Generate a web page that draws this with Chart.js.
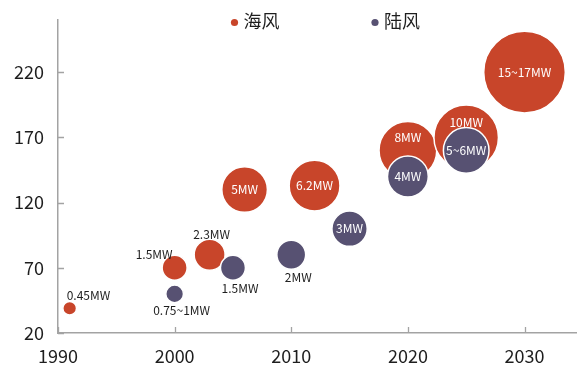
<!DOCTYPE html>
<html>
<head>
<meta charset="utf-8">
<script src="https://cdn.jsdelivr.net/npm/chart.js@4/dist/chart.umd.min.js"></script>
<style>
  html, body { margin: 0; padding: 0; background: #fff; }
  canvas { display: block; }
</style>
</head>
<body>
<canvas id="chart" width="577" height="365"></canvas>
<script>
// Series names
const seriesNames = ['海风', '陆风'];

// Offshore turbines: year, axis value, unit capacity (MW) and label
const offshoreYears = [1991, 2000, 2003, 2006, 2012, 2020, 2025, 2030];
const offshoreValues = [39, 70, 80, 130, 133, 160, 170, 220];
const offshoreMW = [0.45, 1.5, 2.3, 5, 6.2, 8, 10, 16];
const offshoreLabels = ['0.45MW', '1.5MW', '2.3MW', '5MW', '6.2MW', '8MW', '10MW', '15~17MW'];

// Onshore turbines
const onshoreYears = [2000, 2005, 2010, 2015, 2020, 2025];
const onshoreValues = [50, 70, 80, 100, 140, 160];
const onshoreMW = [0.75, 1.5, 2, 3, 4, 5];
const onshoreLabels = ['0.75~1MW', '1.5MW', '2MW', '3MW', '4MW', '5~6MW'];

// Axis ticks
const xTicks = [1990, 2000, 2010, 2020, 2030];
const yTicks = [20, 70, 120, 170, 220];

// Where each label sits relative to its bubble
const offshorePlacement = ['above-right', 'above-left', 'above', 'inside', 'inside', 'upper', 'upper', 'inside'];
const onshorePlacement = ['below', 'below', 'below', 'inside', 'inside', 'inside'];

const FONT = '"Noto Sans CJK SC", "Noto Sans", sans-serif';
const RED = '#C8452A';
const PURPLE = '#575172';
const AXIS = '#A3A3A3';
const TEXT = '#1E1E1E';
const SIZE_K = 10.2; // bubble radius grows with sqrt of capacity

function toPoints(years, values, mw) {
  return years.map((x, i) => ({ x: x, y: values[i], r: SIZE_K * Math.sqrt(mw[i]) }));
}

// Inward-pointing tick marks on both axes
const innerTicks = {
  id: 'innerTicks',
  beforeDatasetsDraw(chart) {
    const { ctx, chartArea, scales } = chart;
    ctx.save();
    ctx.strokeStyle = AXIS;
    ctx.lineWidth = 1.3;
    ctx.beginPath();
    yTicks.forEach(v => {
      const y = Math.round(scales.y.getPixelForValue(v)) + 0.5;
      ctx.moveTo(chartArea.left, y);
      ctx.lineTo(chartArea.left + 6, y);
    });
    xTicks.forEach(v => {
      const x = Math.round(scales.x.getPixelForValue(v)) + 0.5;
      ctx.moveTo(x, chartArea.bottom);
      ctx.lineTo(x, chartArea.bottom - 6);
    });
    ctx.stroke();
    ctx.restore();
  }
};

// Capacity labels next to or inside each bubble
const bubbleLabels = {
  id: 'bubbleLabels',
  afterDatasetsDraw(chart) {
    const { ctx } = chart;
    const sets = [
      { labels: offshoreLabels, place: offshorePlacement },
      { labels: onshoreLabels, place: onshorePlacement }
    ];
    ctx.save();
    ctx.font = '12px ' + FONT;
    ctx.textBaseline = 'middle';
    sets.forEach((s, di) => {
      const meta = chart.getDatasetMeta(di);
      meta.data.forEach((el, i) => {
        const r = chart.data.datasets[di].data[i].r;
        const cx = el.x, cy = el.y;
        const p = s.place[i];
        let x = cx, y = cy, align = 'center', color = '#FFFFFF';
        if (p === 'above-right') { x = cx - 3; y = cy - r - 6; align = 'left'; color = TEXT; }
        else if (p === 'above-left') { x = cx - 2; y = cy - r - 1; align = 'right'; color = TEXT; }
        else if (p === 'above') { x = cx + 2; y = cy - r - 5; color = TEXT; }
        else if (p === 'below') { x = cx + 7; y = cy + r + 8; color = TEXT; }
        else if (p === 'upper') { y = cy - r * 0.45; }
        ctx.textAlign = align;
        ctx.fillStyle = color;
        ctx.fillText(s.labels[i], x, y);
      });
    });
    ctx.restore();
  }
};

// Legend row above the plot
const topLegend = {
  id: 'topLegend',
  afterDraw(chart) {
    const { ctx, chartArea } = chart;
    const mid = (chartArea.left + chartArea.right) / 2;
    const items = [
      { name: seriesNames[0], color: RED, x: mid - 83 },
      { name: seriesNames[1], color: PURPLE, x: mid + 57.5 }
    ];
    ctx.save();
    ctx.font = '18px ' + FONT;
    ctx.textBaseline = 'middle';
    ctx.textAlign = 'left';
    items.forEach(it => {
      ctx.fillStyle = it.color;
      ctx.beginPath();
      ctx.arc(it.x, 22.5, 3.6, 0, Math.PI * 2);
      ctx.fill();
      ctx.fillStyle = TEXT;
      ctx.fillText(it.name, it.x + 9, 21);
    });
    ctx.restore();
  }
};

new Chart(document.getElementById('chart'), {
  type: 'bubble',
  data: {
    datasets: [
      {
        label: seriesNames[0],
        data: toPoints(offshoreYears, offshoreValues, offshoreMW),
        backgroundColor: RED,
        borderColor: '#FFFFFF',
        borderWidth: 1.5,
        order: 2
      },
      {
        label: seriesNames[1],
        data: toPoints(onshoreYears, onshoreValues, onshoreMW),
        backgroundColor: PURPLE,
        borderColor: '#FFFFFF',
        borderWidth: 1.5,
        order: 1
      }
    ]
  },
  options: {
    responsive: false,
    animation: false,
    events: [],
    layout: { autoPadding: false, padding: { top: 20, left: 0, right: 0, bottom: 0 } },
    plugins: { legend: { display: false }, tooltip: { enabled: false } },
    scales: {
      x: {
        type: 'linear',
        min: 1990,
        max: 2034.5,
        afterBuildTicks(scale) { scale.ticks = xTicks.map(v => ({ value: v })); },
        afterFit(scale) {
          scale.height = 32;
          scale.paddingLeft = 0;
          scale.paddingRight = 0;
        },
        grid: { display: true, drawOnChartArea: false, drawTicks: false },
        border: { display: true, color: AXIS, width: 1.5 },
        ticks: { color: TEXT, font: { family: FONT, size: 18 }, padding: 12, maxRotation: 0, callback: v => String(v) }
      },
      y: {
        type: 'linear',
        min: 20,
        max: 260,
        afterBuildTicks(scale) { scale.ticks = yTicks.map(v => ({ value: v })); },
        afterFit(scale) {
          scale.width = 58;
          scale.paddingTop = 0;
          scale.paddingBottom = 0;
        },
        grid: { display: true, drawOnChartArea: false, drawTicks: false },
        border: { display: true, color: AXIS, width: 1.5 },
        ticks: { color: TEXT, font: { family: FONT, size: 18 }, padding: 14, callback: v => String(v) }
      }
    }
  },
  plugins: [innerTicks, bubbleLabels, topLegend]
});
</script>
</body>
</html>
